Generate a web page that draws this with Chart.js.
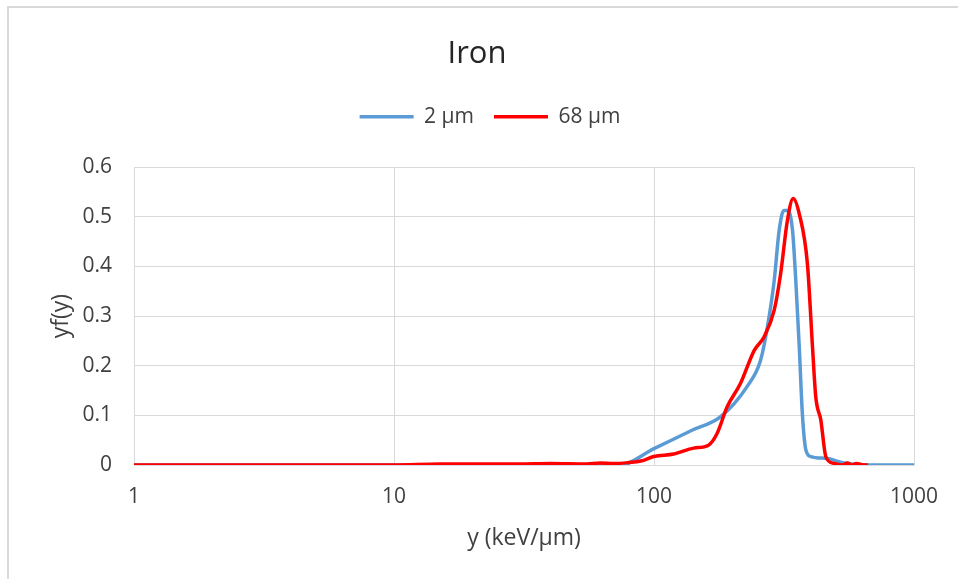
<!DOCTYPE html>
<html>
<head>
<meta charset="utf-8">
<script src="https://cdn.jsdelivr.net/npm/chart.js@4.4.0/dist/chart.umd.min.js"></script>
<style>
  html, body { margin: 0; padding: 0; background: #fff; overflow: hidden; }
  #frame { position: absolute; left: 7px; top: 6px; width: 1000px; height: 1000px;
           border-left: 2px solid #d9d9d9; border-top: 2px solid #d9d9d9; }
  #wrap { position: absolute; left: 0; top: 0; width: 958px; height: 579px; }
</style>
</head>
<body>
<div id="frame"></div>
<div id="wrap"><canvas id="canvasIron"></canvas></div>
<script>
"use strict";
// chart data
const xTicks = [1, 10, 100, 1000];
const yTicks = [0, 0.1, 0.2, 0.3, 0.4, 0.5, 0.6];
const seriesNames = ["2 \u00b5m", "68 \u00b5m"];

const blueX = [1, 2, 5, 10, 20, 40, 60, 74, 100, 140, 180, 228, 257, 273, 290, 303, 316, 326, 341, 351, 362, 372, 384, 401, 465, 537, 683, 1000];
const blueY = [0, 0, 0, 0, 0, 0, 0, 0, 0.033, 0.07, 0.097, 0.158, 0.211, 0.278, 0.372, 0.473, 0.513, 0.513, 0.473, 0.372, 0.238, 0.104, 0.030, 0.017, 0.013, 0.004, 0, 0];

const redX = [1, 5, 10, 15, 20, 30, 40, 55, 62, 70, 80, 89, 100, 119, 142, 162, 175, 191, 215, 243, 265, 290, 307, 326, 343, 362, 389, 407, 419, 438, 458, 493, 530, 555, 575, 600, 640, 665];
const redY = [0, 0, 0, 0.002, 0.002, 0.002, 0.003, 0.002, 0.004, 0.003, 0.005, 0.008, 0.017, 0.022, 0.034, 0.040, 0.064, 0.117, 0.164, 0.231, 0.258, 0.312, 0.386, 0.493, 0.537, 0.506, 0.406, 0.238, 0.137, 0.091, 0.017, 0.003, 0, 0.004, 0, 0.003, 0, 0];

function toPoints(xs, ys) {
    return xs.map(function (x, i) { return { x: x, y: ys[i] }; });
}

const textColor = "#404040";
const gridColor = "#d9d9d9";
const fontFamily = "'Open Sans', sans-serif";

// extra room between the legend and the plot, legend nudged right a bit
const legendGap = {
    id: "legendGap",
    beforeInit: function (chart) {
        const fit = chart.legend.fit;
        chart.legend.fit = function () {
            fit.call(this);
            this.height += 30;
        };
    },
    afterLayout: function (chart) {
        chart.legend.left += 13;
        chart.legend.right += 13;
    }
};

const context = document.getElementById("canvasIron");
const myChart = new Chart(context, {
    type: "line",
    data: {
        datasets: [{
            label: seriesNames[0],
            data: toPoints(blueX, blueY),
            borderColor: "#5b9bd5",
            backgroundColor: "#5b9bd5",
            borderWidth: 3.5,
            pointRadius: 0,
            cubicInterpolationMode: "monotone",
            order: 1
        }, {
            label: seriesNames[1],
            data: toPoints(redX, redY),
            borderColor: "#ff0000",
            backgroundColor: "#ff0000",
            borderWidth: 3.5,
            pointRadius: 0,
            cubicInterpolationMode: "monotone",
            order: 0
        }]
    },
    plugins: [legendGap],
    options: {
        responsive: true,
        maintainAspectRatio: false,
        animation: false,
        layout: { padding: { top: 13, left: 40, right: 44, bottom: 23 } },
        plugins: {
            title: {
                display: true,
                text: "Iron",
                color: "#262626",
                font: { family: fontFamily, size: 31, weight: "normal" },
                padding: { top: 23, bottom: 13 }
            },
            legend: {
                display: true,
                labels: {
                    color: textColor,
                    font: { family: fontFamily, size: 21 },
                    usePointStyle: true,
                    pointStyle: "line",
                    pointStyleWidth: 54,
                    padding: 20,
                    sort: function (a, b) { return a.datasetIndex - b.datasetIndex; }
                }
            },
            tooltip: { enabled: false }
        },
        scales: {
            x: {
                type: "logarithmic",
                min: 1,
                max: 1000,
                afterFit: function (scale) { scale.height = 91; },
                afterBuildTicks: function (scale) {
                    scale.ticks = xTicks.map(function (v) { return { value: v }; });
                },
                ticks: {
                    color: textColor,
                    font: { family: fontFamily, size: 21 },
                    padding: 19,
                    maxRotation: 0,
                    callback: function (value) { return String(value); }
                },
                grid: { color: gridColor, drawTicks: false },
                border: { color: gridColor },
                title: {
                    display: true,
                    text: "y (keV/\u00b5m)",
                    color: textColor,
                    font: { family: fontFamily, size: 23 },
                    padding: { top: 15, bottom: 4 }
                }
            },
            y: {
                min: 0,
                max: 0.6,
                afterFit: function (scale) { scale.width = 94; },
                afterBuildTicks: function (scale) {
                    scale.ticks = yTicks.map(function (v) { return { value: v }; });
                },
                ticks: {
                    color: textColor,
                    font: { family: fontFamily, size: 21 },
                    padding: 22,
                    callback: function (value) { return String(Number(value.toFixed(1))); }
                },
                grid: { color: gridColor, drawTicks: false },
                border: { color: gridColor },
                title: {
                    display: true,
                    text: "yf(y)",
                    color: textColor,
                    font: { family: fontFamily, size: 23 },
                    padding: { top: 8, bottom: 0 }
                }
            }
        }
    }
});
</script>
</body>
</html>
